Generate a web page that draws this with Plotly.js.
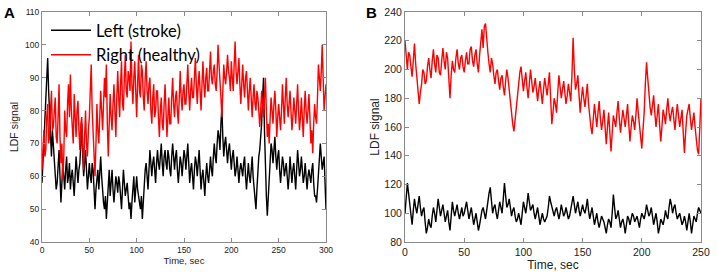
<!DOCTYPE html>
<html><head><meta charset="utf-8">
<script src="https://cdn.plot.ly/plotly-3.0.1.min.js"></script>
<style>html,body{margin:0;padding:0;background:#fff}#c{width:717px;height:272px}</style>
</head><body><div id="c"></div>
<script>
// Panel A: sampled every 1 s, 0..300 s
const tA = Array.from({length:301},(_,i)=>i);
const leftA = [
58,64,72,78,84,90,96,86,78,70, 66,74,70,64,62,56,58,64,68,60, 52,58,64,60,56,62,66,58,60,64,
56,60,62,58,54,60,66,62,58,62, 64,70,76,66,60,64,68,62,56,60, 64,60,58,64,62,56,50,56,60,62,
56,60,66,60,54,52,50,54,47,52, 58,62,54,58,62,56,52,56,60,58, 55,60,58,54,50,56,62,58,54,56,
58,54,50,52,47,52,56,60,52,56, 60,56,54,52,50,54,47,52,58,62, 64,60,56,62,68,64,60,64,66,62,
58,64,68,64,62,66,70,64,60,66, 68,64,62,68,66,62,60,66,70,66, 62,66,68,62,58,62,66,64,60,64,
68,66,62,66,70,64,58,62,64,60, 56,62,66,64,60,64,68,62,56,60, 62,58,54,60,64,60,58,62,66,62,
60,66,70,66,64,70,74,72,68,76, 81,72,66,70,72,68,64,68,70,66, 62,66,68,64,60,62,66,62,58,62,
64,62,60,64,66,60,56,60,64,60, 58,62,66,60,56,54,50,56,62,66, 68,72,76,84,90,74,62,54,48,54,
60,66,70,68,64,68,72,66,62,66, 68,62,58,62,66,64,60,62,64,60, 56,60,66,62,58,62,64,60,56,62,
68,64,60,62,66,62,58,60,64,60, 56,60,62,60,58,62,64,58,54,54, 52,56,60,66,70,66,62,64,66,58,
50];
const rightA = [
62,70,74,66,68,78,82,70,72,80, 86,74,75,80,84,72,70,78,88,72, 64,70,59,66,80,74,72,82,88,78,
91,80,76,70,85,78,72,80,83,74, 68,76,78,70,62,72,80,70,66,74, 78,86,94,80,72,66,60,70,82,74,
70,78,86,80,74,82,90,84,94,76, 66,76,85,78,74,82,88,80,72,84, 92,84,78,88,95,82,80,90,97,86,
84,92,90,86,101,88,82,90,95,86, 78,88,97,86,84,94,92,84,80,90, 95,86,82,88,90,80,76,84,88,78,
80,86,86,78,72,80,84,76,74,82, 88,80,72,78,84,76,76,84,90,82, 78,84,86,80,76,84,92,84,80,86,
88,82,82,88,94,86,80,86,90,84, 84,90,96,88,82,88,92,86,80,88, 95,88,84,90,93,86,86,92,98,90,
88,92,94,88,86,92,100,94,90,84, 78,86,94,90,88,92,97,92,90,86, 95,90,86,94,101,92,88,92,96,88,
82,88,94,88,84,90,92,86,80,86, 90,84,78,84,88,82,80,86,84,80, 75,80,86,82,78,84,90,80,72,76,
70,78,84,80,76,82,86,80,72,78, 82,78,74,80,88,82,76,84,90,82, 78,82,86,80,74,78,84,80,76,82,
88,80,74,78,84,78,72,80,86,80, 76,80,85,78,70,74,67,76,82,78, 76,84,94,90,86,92,100,90,80,84,
88];
// Panel B: sampled every 1 s, 0..250 s
const tB = Array.from({length:251},(_,i)=>i);
const leftB = [
100,112,121,114,106,98,92,102,110,104, 100,106,112,104,98,102,104,94,86,90, 96,92,90,98,104,100,94,102,110,104,
98,102,106,100,94,98,102,94,88,98, 108,102,98,102,106,100,96,100,104,98, 100,104,108,102,96,100,104,98,92,96,
100,94,88,92,98,102,104,100,96,102, 110,114,118,108,100,104,106,100,96,102, 108,104,100,110,121,112,104,106,110,104,
98,102,104,98,94,96,100,96,92,100, 108,104,100,106,114,108,102,104,106,100, 96,100,104,98,92,96,100,96,94,96,
98,104,112,108,104,100,98,102,104,100, 96,100,106,102,98,100,104,100,96,98, 102,106,112,106,100,104,108,102,98,102,
106,102,100,104,110,102,96,100,104,98, 92,96,100,94,90,94,98,96,94,90, 86,92,96,94,90,100,113,104,96,98,
102,96,90,94,96,92,86,92,98,96, 92,96,100,98,94,96,98,94,90,96, 100,98,96,100,106,102,98,100,104,98,
92,96,100,94,86,90,96,94,92,96, 102,98,96,104,110,106,100,104,106,100, 96,98,100,96,92,94,98,94,88,94,
100,94,86,92,98,96,94,100,104,102, 100];
const rightB = [
220,208,200,212,210,202,195,206,218,204, 196,188,176,184,190,200,198,190,192,202, 208,200,194,206,214,204,198,210,208,198,
196,206,215,206,200,212,208,194,180,196, 206,200,198,208,214,204,200,208,210,202, 198,206,212,204,204,214,216,206,202,210,
214,204,198,210,222,228,215,230,232,220, 212,204,198,208,204,196,190,198,200,192, 186,194,196,188,182,192,200,194,185,178,
170,162,157,166,175,184,190,198,202,194, 185,192,198,188,180,190,200,192,184,188, 194,186,178,186,192,184,176,186,194,188,
182,190,198,180,162,170,180,176,170,184, 196,188,180,186,192,184,176,182,190,184, 178,196,222,200,186,190,196,182,170,180,
188,180,174,182,190,176,165,160,155,166, 176,168,160,170,178,166,158,164,172,160, 148,160,170,156,143,156,168,164,160,170,
178,166,156,164,172,166,160,168,176,162, 150,160,168,164,158,168,180,170,160,152, 145,158,170,190,205,194,180,174,168,176,
182,170,160,168,176,162,150,160,172,168, 162,172,180,170,164,170,174,166,158,168, 176,168,160,166,172,156,142,156,168,172,
176,166,158,164,170,160,150,144,141,160, 180];
const ticksA_y = [40,50,60,70,80,90,100,110];
const ticksA_x = [0,50,100,150,200,250,300];
const ticksB_y = [80,100,120,140,160,180,200,220,240];
const ticksB_x = [0,50,100,150,200,250];

const W=717,H=272;
const yd=[1-242/H,1-12/H];
const font='Liberation Sans, Arial, sans-serif';
const axBase={showline:true,mirror:'ticks',linecolor:'#8a8a8a',linewidth:1,ticks:'inside',ticklen:4,tickcolor:'#8a8a8a',showgrid:false,zeroline:false,tickmode:'array'};
const traces=[
 {x:tA,y:leftA,type:'scatter',mode:'lines',name:'Left (stroke)',line:{color:'#000',width:1.4},xaxis:'x',yaxis:'y'},
 {x:tA,y:rightA,type:'scatter',mode:'lines',name:'Right (healthy)',line:{color:'#ff0000',width:1.4},xaxis:'x',yaxis:'y'},
 {x:tB,y:rightB,type:'scatter',mode:'lines',showlegend:false,line:{color:'#ff0000',width:1.4},xaxis:'x2',yaxis:'y2'},
 {x:tB,y:leftB,type:'scatter',mode:'lines',showlegend:false,line:{color:'#000',width:1.4},xaxis:'x2',yaxis:'y2'}
];
const layout={
 width:W,height:H,margin:{l:0,r:0,t:0,b:0},paper_bgcolor:'#fff',plot_bgcolor:'#fff',
 xaxis:Object.assign({},axBase,{domain:[42/W,326/W],range:[0,300],tickvals:ticksA_x,tickfont:{family:font,size:8.5,color:'#222'},anchor:'y',
   title:{text:'Time, sec',font:{family:font,size:9.5,color:'#222'},standoff:3}}),
 yaxis:Object.assign({},axBase,{domain:yd,range:[40,110],tickvals:ticksA_y,tickfont:{family:font,size:8.5,color:'#222'},anchor:'x',
   title:{text:'LDF signal',font:{family:font,size:10.5,color:'#222'},standoff:4}}),
 xaxis2:Object.assign({},axBase,{domain:[405/W,701/W],range:[0,250],tickvals:ticksB_x,tickfont:{family:font,size:10.5,color:'#222'},anchor:'y2',
   title:{text:'Time, sec',font:{family:font,size:12,color:'#222'},standoff:1}}),
 yaxis2:Object.assign({},axBase,{domain:yd,range:[80,240],tickvals:ticksB_y,tickfont:{family:font,size:10.5,color:'#222'},anchor:'x2',
   title:{text:'LDF signal',font:{family:font,size:12,color:'#222'},standoff:2}}),
 showlegend:true,
 legend:{x:46/W,y:1-13/H,xanchor:'left',yanchor:'top',bgcolor:'rgba(0,0,0,0)',font:{family:'Lato, sans-serif',size:16.5,color:'#000'},tracegroupgap:0,itemwidth:40},
 annotations:[
  {text:'<b>A</b>',x:2/W,y:1-2/H,xref:'paper',yref:'paper',xanchor:'left',yanchor:'top',showarrow:false,font:{family:font,size:15,color:'#000'}},
  {text:'<b>B</b>',x:364/W,y:1-2/H,xref:'paper',yref:'paper',xanchor:'left',yanchor:'top',showarrow:false,font:{family:font,size:15,color:'#000'}}
 ]
};
Plotly.newPlot('c',traces,layout,{staticPlot:true,displayModeBar:false});
</script></body></html>
